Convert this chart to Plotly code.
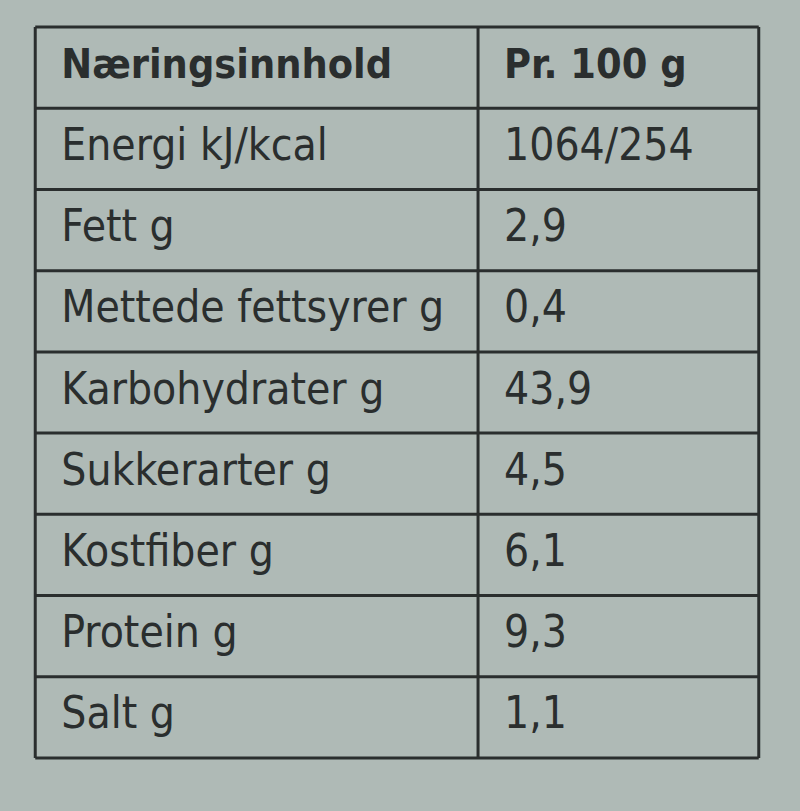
import plotly.graph_objects as go

# table content
header = ["Næringsinnhold", "Pr. 100 g"]
nutrients = [
    "Energi kJ/kcal",
    "Fett g",
    "Mettede fettsyrer g",
    "Karbohydrater g",
    "Sukkerarter g",
    "Kostfiber g",
    "Protein g",
    "Salt g",
]
amounts = ["1064/254", "2,9", "0,4", "43,9", "4,5", "6,1", "9,3", "1,1"]

# layout / style
bg_color = "#afbab6"
ink = "#2a2e2e"
col_split = 0.612  # position of the column divider (fraction of table width)
pad = 0.036
body_font = dict(family="DejaVu Sans Condensed, DejaVu Sans", size=44, color=ink)
head_font = dict(family="DejaVu Sans Condensed, DejaVu Sans", size=41, color=ink)

n_rows = len(nutrients) + 1
row_centers = [i + 0.5 for i in range(n_rows)]

# table box in pixels, plus a little slack so the outer border isn't clipped
left, right, top, bottom = 35, 759, 27, 758
ex, ey = 0.01, 0.05
px_x = (right - left)
px_y = (bottom - top) / n_rows

fig = go.Figure()

# header row
fig.add_trace(
    go.Scatter(
        x=[pad, col_split + pad],
        y=[row_centers[0]] * 2,
        text=[f"<b>{h}</b>" for h in header],
        mode="text",
        textposition="middle right",
        textfont=head_font,
        hoverinfo="skip",
    )
)

# nutrient names
fig.add_trace(
    go.Scatter(
        x=[pad] * len(nutrients),
        y=row_centers[1:],
        text=nutrients,
        mode="text",
        textposition="middle right",
        textfont=body_font,
        hoverinfo="skip",
    )
)

# amounts per 100 g
fig.add_trace(
    go.Scatter(
        x=[col_split + pad] * len(amounts),
        y=row_centers[1:],
        text=amounts,
        mode="text",
        textposition="middle right",
        textfont=body_font,
        hoverinfo="skip",
    )
)

# grid lines
line = dict(color=ink, width=3)
for i in range(n_rows + 1):
    fig.add_shape(type="line", x0=0, x1=1, y0=i, y1=i, xref="x", yref="y", line=line)
for xv in [0, col_split, 1]:
    fig.add_shape(type="line", x0=xv, x1=xv, y0=0, y1=n_rows, xref="x", yref="y", line=line)

fig.update_layout(
    width=800,
    height=811,
    margin=dict(
        l=left - ex * px_x,
        r=800 - right - ex * px_x,
        t=top - ey * px_y,
        b=811 - bottom - ey * px_y,
    ),
    paper_bgcolor=bg_color,
    plot_bgcolor=bg_color,
    showlegend=False,
    xaxis=dict(range=[-ex, 1 + ex], visible=False, fixedrange=True),
    yaxis=dict(range=[n_rows + ey, -ey], visible=False, fixedrange=True),
)

fig.write_html(
    "out.html",
    config={"displayModeBar": False},
    post_script="document.body.style.margin='0';document.body.style.overflow='hidden';",
)
